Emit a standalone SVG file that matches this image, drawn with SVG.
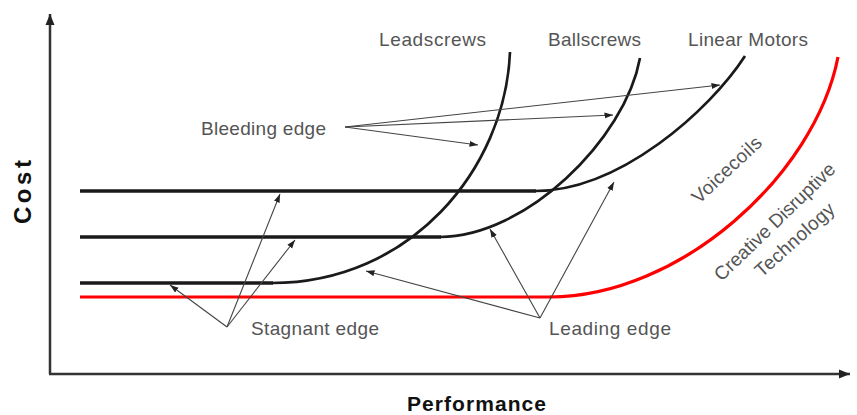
<svg xmlns="http://www.w3.org/2000/svg" width="857" height="415" viewBox="0 0 857 415">
<style>
.lbl{font-family:"Liberation Sans",Arial,sans-serif;font-size:19px;fill:#555}
.axl{font-family:"Liberation Sans",Arial,sans-serif;font-weight:bold;fill:#111}
.flat{fill:none;stroke:#1a1a1a;stroke-width:3.6}
.crv{fill:none;stroke:#1a1a1a;stroke-width:2.7}
.red{fill:none;stroke:#ff0000;stroke-width:3.2}
.ax{fill:none;stroke:#333;stroke-width:2.5}
.arr{fill:none;stroke:#444;stroke-width:1.1}
</style>
<defs>
<marker id="ah" markerUnits="userSpaceOnUse" markerWidth="9" markerHeight="7" refX="8.5" refY="3.5" orient="auto">
<path d="M0,0.5 L8.5,3.5 L0,6.5 z" fill="#222"/>
</marker>
<marker id="axh" markerUnits="userSpaceOnUse" markerWidth="12" markerHeight="10" refX="11" refY="5" orient="auto">
<path d="M0,0.5 L11,5 L0,9.5 z" fill="#222"/>
</marker>
</defs>
<rect width="857" height="415" fill="#fff"/>
<g id="axes">
<path class="ax" d="M50,374 V14" marker-end="url(#axh)"/>
<path class="ax" d="M49,374 H850" marker-end="url(#axh)"/>
<text class="axl" font-size="21" x="407" y="411" textLength="139" lengthAdjust="spacing">Performance</text>
<text class="axl" font-size="24" transform="translate(31,224) rotate(-90)" x="0" y="0" textLength="64" lengthAdjust="spacing">Cost</text>
</g>
<g id="leadscrews">
<path class="flat" d="M80,283 H273"/>
<path class="crv" d="M272,283 C410,283 505,170 510,52"/>
<text class="lbl" x="379" y="46" textLength="107" lengthAdjust="spacing">Leadscrews</text>
</g>
<g id="ballscrews">
<path class="flat" d="M80,237 H441"/>
<path class="crv" d="M440,237 C525,237 625,140 640,58"/>
<text class="lbl" x="548" y="46" textLength="93" lengthAdjust="spacing">Ballscrews</text>
</g>
<g id="linear-motors">
<path class="flat" d="M80,191 H536"/>
<path class="crv" d="M535,191 C620,191 710,110 745,56"/>
<text class="lbl" x="688" y="46" textLength="120" lengthAdjust="spacing">Linear Motors</text>
</g>
<g id="voicecoils">
<text class="lbl" text-anchor="middle" transform="translate(727,170) rotate(-43)" x="0" y="6" textLength="88" lengthAdjust="spacing">Voicecoils</text>
</g>
<g id="creative-disruptive">
<path class="red" d="M80,297 H551"/>
<path class="red" d="M550,297 C680,297 815,175 838,57"/>
<text class="lbl" text-anchor="middle" transform="translate(775,222) rotate(-44)" x="0" y="6" textLength="160" lengthAdjust="spacing">Creative Disruptive</text>
<text class="lbl" text-anchor="middle" transform="translate(795,240) rotate(-42)" x="0" y="6" textLength="100" lengthAdjust="spacing">Technology</text>
</g>
<g id="bleeding-edge">
<text class="lbl" x="201" y="135" textLength="125" lengthAdjust="spacing">Bleeding edge</text>
</g>
<g id="stagnant-edge">
<text class="lbl" x="251" y="335" textLength="128" lengthAdjust="spacing">Stagnant edge</text>
</g>
<g id="leading-edge">
<text class="lbl" x="549" y="335" textLength="122" lengthAdjust="spacing">Leading edge</text>
</g>
<g id="connectors">
<path class="arr" d="M345,127 L720,85" marker-end="url(#ah)"/>
<path class="arr" d="M345,127 L613,115" marker-end="url(#ah)"/>
<path class="arr" d="M345,127 L478,145" marker-end="url(#ah)"/>
<path class="arr" d="M227,327 L170,285" marker-end="url(#ah)"/>
<path class="arr" d="M227,327 L280,194" marker-end="url(#ah)"/>
<path class="arr" d="M227,327 L295,240" marker-end="url(#ah)"/>
<path class="arr" d="M540,318 L366,271" marker-end="url(#ah)"/>
<path class="arr" d="M540,318 L490,229" marker-end="url(#ah)"/>
<path class="arr" d="M540,318 L614,182" marker-end="url(#ah)"/>
</g>
</svg>
